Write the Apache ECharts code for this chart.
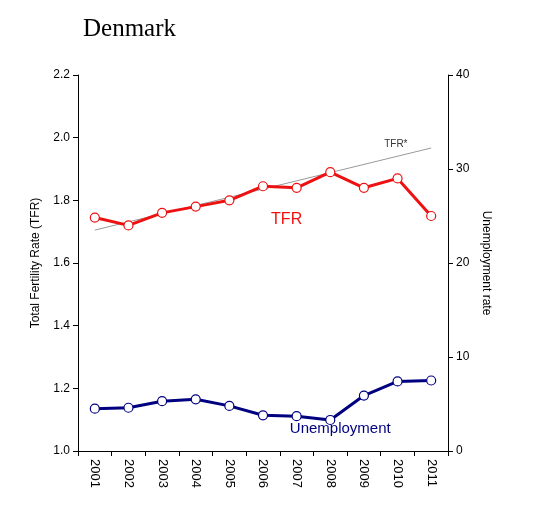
<!DOCTYPE html>
<html>
<head>
<meta charset="UTF-8">
<script src="https://cdn.jsdelivr.net/npm/echarts@6/dist/echarts.min.js"></script>
</head>
<body style="margin:0;background:#fff">
<div id="chart" style="width:560px;height:510px"></div>
<script>
    const years = ['2001', '2002', '2003', '2004', '2005', '2006', '2007', '2008', '2009', '2010', '2011'];
    const tfr = [1.745, 1.72, 1.76, 1.78, 1.80, 1.845, 1.84, 1.89, 1.84, 1.87, 1.75];
    const unemployment = [4.5, 4.6, 5.3, 5.5, 4.8, 3.8, 3.7, 3.3, 5.9, 7.4, 7.5];
    const tfrTrend = [1.705, null, null, null, null, null, null, null, null, null, 1.967];

    const myChart = echarts.init(document.getElementById('chart'));
    const axisStyle = {lineStyle: {color: '#000'}};
    const marker = {symbol: 'circle', symbolSize: 9};

    myChart.setOption({
        animation: false,
        title: {
            text: 'Denmark', left: 78, top: 12,
            textStyle: {fontFamily: 'Liberation Serif', fontWeight: 'normal', fontSize: 25, color: '#000'}
        },
        grid: {left: 78, right: 112, top: 75, bottom: 59},
        xAxis: {
            type: 'category', data: years, boundaryGap: true,
            axisLine: axisStyle, axisTick: {show: true, length: 5, lineStyle: {color: '#000'}},
            axisLabel: {rotate: -90, color: '#000', fontFamily: 'Liberation Sans', fontSize: 13, margin: 8}
        },
        yAxis: [{
            type: 'value', min: 1.0, max: 2.2, interval: 0.2,
            name: 'Total Fertility Rate (TFR)', nameLocation: 'middle', nameGap: 36,
            nameTextStyle: {color: '#000', fontFamily: 'Liberation Sans', fontSize: 12},
            axisLine: {show: true, lineStyle: {color: '#000'}}, axisTick: {show: true, lineStyle: {color: '#000'}},
            splitLine: {show: false},
            axisLabel: {color: '#000', fontFamily: 'Liberation Sans', fontSize: 12, formatter: v => v.toFixed(1)}
        }, {
            type: 'value', min: 0, max: 40, interval: 10,
            name: 'Unemployment rate', nameLocation: 'middle', nameGap: 30, nameRotate: -90,
            nameTextStyle: {color: '#000', fontFamily: 'Liberation Sans', fontSize: 12},
            axisLine: {show: true, lineStyle: {color: '#000'}}, axisTick: {show: true, lineStyle: {color: '#000'}},
            splitLine: {show: false},
            axisLabel: {color: '#000', fontFamily: 'Liberation Sans', fontSize: 12}
        }],
        series: [{
            name: 'TFR*', type: 'line', data: tfrTrend, connectNulls: true, showSymbol: false,
            lineStyle: {color: '#999', width: 1}, z: 1,
            endLabel: {show: true, formatter: 'TFR*', offset: [-55, -4], color: '#333', fontSize: 10, fontFamily: 'Liberation Sans'}
        }, {
            name: 'TFR', type: 'line', data: tfr,
            lineStyle: {color: '#ee1111', width: 3},
            ...marker, itemStyle: {color: '#fff', borderColor: '#ee1111', borderWidth: 1.2},
            markPoint: {
                symbol: 'rect', symbolSize: 1, itemStyle: {color: 'transparent'},
                data: [{coord: ['2007', 1.74], label: {show: true, formatter: 'TFR', color: '#ee1111', fontSize: 16, fontFamily: 'Liberation Sans', offset: [-10, 0]}}]
            }
        }, {
            name: 'Unemployment', type: 'line', yAxisIndex: 1, data: unemployment,
            lineStyle: {color: '#000080', width: 3},
            ...marker, itemStyle: {color: '#fff', borderColor: '#000080', borderWidth: 1.2},
            markPoint: {
                symbol: 'rect', symbolSize: 1, itemStyle: {color: 'transparent'},
                data: [{coord: ['2008', 2.4], label: {show: true, formatter: 'Unemployment', color: '#000080', fontSize: 15, fontFamily: 'Liberation Sans', offset: [10, 0]}}]
            }
        }]
    });
</script>
</body>
</html>
